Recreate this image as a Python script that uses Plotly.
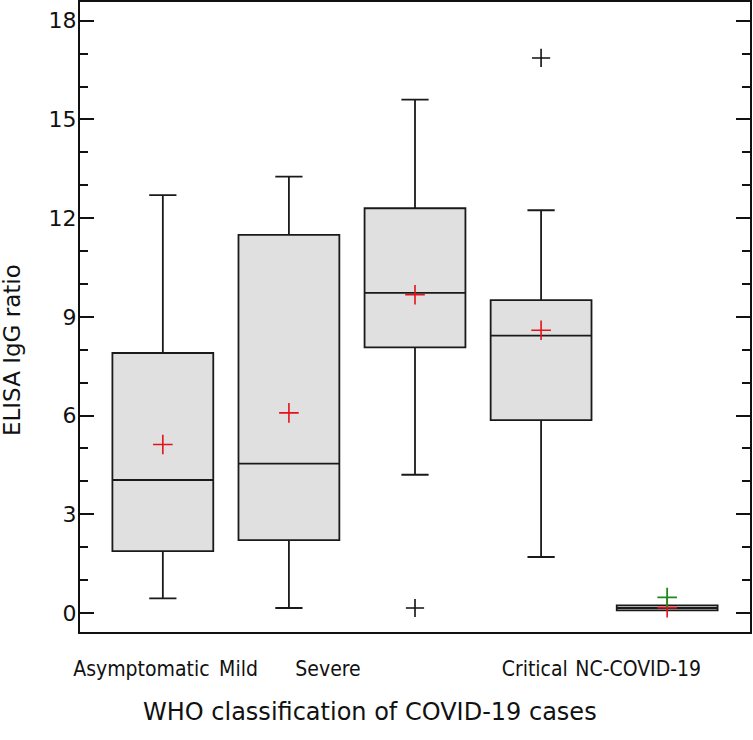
import plotly.graph_objects as go

categories = ["Asymptomatic", "Mild", "Severe", "Critical", "NC-COVID-19"]
positions = [1, 2, 3, 4, 5]
label_positions = [0.83, 1.60, 2.31, 3.95, 4.77]

q1 = [1.88, 2.21, 8.07, 5.86, 0.08]
median = [4.04, 4.54, 9.73, 8.43, 0.15]
q3 = [7.90, 11.49, 12.30, 9.51, 0.23]
lower_whisker = [0.44, 0.15, 4.20, 1.70, 0.08]
upper_whisker = [12.70, 13.26, 15.60, 12.24, 0.23]
means = [5.12, 6.08, 9.67, 8.59, 0.16]

outlier_x = [3, 4]
outlier_y = [0.15, 16.87]

extra_x = [5]
extra_y = [0.47]

fig = go.Figure()

fig.add_trace(go.Box(
    x=positions, q1=q1, median=median, q3=q3,
    lowerfence=lower_whisker, upperfence=upper_whisker,
    width=0.8, whiskerwidth=0.27,
    fillcolor="#e0e0e0",
    line=dict(color="#1a1a1a", width=1.8),
    boxpoints=False, showlegend=False, hoverinfo="skip",
))

fig.add_trace(go.Scatter(
    x=positions, y=means, mode="markers",
    marker=dict(symbol="cross-thin", size=14, line=dict(color="#e3121b", width=1.6)),
    showlegend=False, hoverinfo="skip",
))

fig.add_trace(go.Scatter(
    x=outlier_x, y=outlier_y, mode="markers",
    marker=dict(symbol="cross-thin", size=13, line=dict(color="#111111", width=1.6)),
    showlegend=False, hoverinfo="skip",
))

fig.add_trace(go.Scatter(
    x=extra_x, y=extra_y, mode="markers",
    marker=dict(symbol="cross-thin", size=14, line=dict(color="#1e8a1e", width=1.8)),
    showlegend=False, hoverinfo="skip",
))

cond = "DejaVu Sans Condensed, DejaVu Sans, Verdana, sans-serif"
reg = "DejaVu Sans, Verdana, sans-serif"

fig.update_layout(
    width=753, height=740,
    margin=dict(l=80, r=3, t=2, b=108, autoexpand=False),
    paper_bgcolor="white", plot_bgcolor="white",
    font=dict(family=cond, size=20, color="#111111"),
    xaxis=dict(
        range=[0.343, 5.657],
        tickvals=label_positions, ticktext=categories,
        ticks="", showgrid=False, zeroline=False,
        showline=True, linecolor="#111111", linewidth=2, mirror=True,
        ticklabelstandoff=17, automargin=False,
        tickfont=dict(size=21, family=cond),
    ),
    yaxis=dict(
        range=[-0.58, 18.57],
        tickvals=[0, 3, 6, 9, 12, 15, 18],
        ticks="inside", ticklen=14, tickwidth=2, tickcolor="#111111",
        minor=dict(dtick=1, ticks="inside", ticklen=8, tickwidth=2, tickcolor="#111111"),
        showgrid=False, zeroline=False,
        showline=True, linecolor="#111111", linewidth=2, mirror="ticks",
        tickfont=dict(size=22, family=reg),
        ticklabelstandoff=-3, automargin=False,
    ),
    annotations=[
        dict(text="ELISA IgG ratio", xref="paper", yref="paper",
             x=-0.1015, y=0.4476, xanchor="center", yanchor="middle",
             textangle=-90, showarrow=False, font=dict(size=23, family=reg)),
        dict(text="WHO classification of COVID-19 cases", xref="paper", yref="paper",
             x=0.4328, y=-0.127, xanchor="center", yanchor="middle",
             showarrow=False, font=dict(size=24, family=reg)),
    ],
)

fig.write_html(
    "out.html",
    config={"displayModeBar": False},
    post_script="document.body.style.margin='0px';document.body.style.overflow='hidden';",
)
